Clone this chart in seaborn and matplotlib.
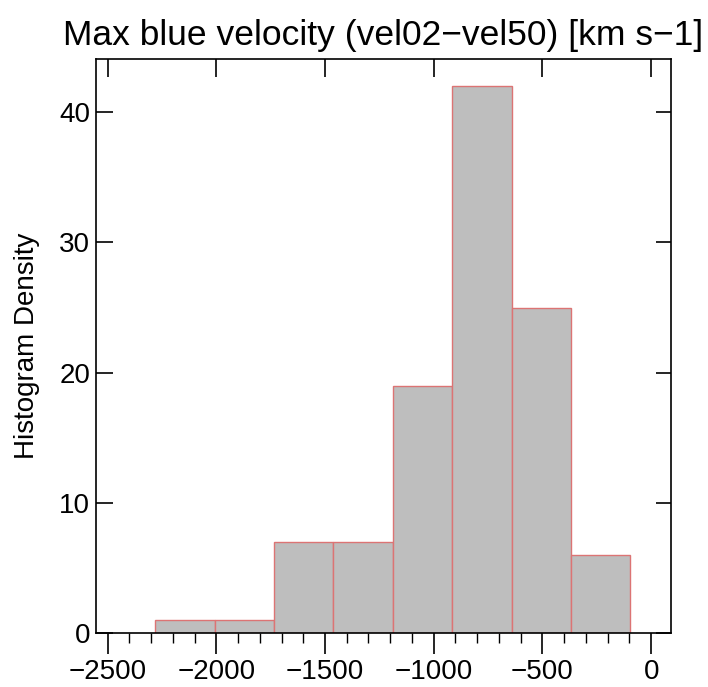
import matplotlib
matplotlib.use('Agg')
import matplotlib.pyplot as plt
import seaborn as sns
import numpy as np
from matplotlib.ticker import MultipleLocator

# Histogram values
bin_edges = [-2280, -2007, -1734, -1461, -1188, -915, -642, -369, -96]
counts = [1, 1, 7, 7, 19, 42, 25, 6]
x_ticks = [-2500, -2000, -1500, -1000, -500, 0]
y_ticks = [0, 10, 20, 30, 40]

title = 'Max blue velocity (vel02\u2212vel50) [km s\u22121]'
ylabel = 'Histogram Density'

sns.set_style('white')
plt.rcParams['font.family'] = ['Liberation Sans', 'DejaVu Sans']
plt.rcParams['text.color'] = 'black'
plt.rcParams['axes.labelcolor'] = 'black'
plt.rcParams['xtick.color'] = 'black'
plt.rcParams['ytick.color'] = 'black'

centers = [(a + b) / 2 for a, b in zip(bin_edges[:-1], bin_edges[1:])]

fig = plt.figure(figsize=(7.08, 6.87), dpi=100)
ax = fig.add_axes([0.135, 0.079, 0.813, 0.835])

sns.histplot(x=centers, weights=counts, bins=bin_edges, ax=ax,
             color='#bebebe', edgecolor='#dc7474', linewidth=1.0, alpha=1.0)

ax.set_xlim(-2555, 92)
ax.set_ylim(0, 44.1)
ax.set_xticks(x_ticks)
ax.set_yticks(y_ticks)
ax.xaxis.set_minor_locator(MultipleLocator(100))

# bottom axis: ticks outward with minors
ax.tick_params(axis='x', which='major', direction='out', length=15, width=1.2,
               labelsize=20, pad=4, bottom=True, top=False)
ax.tick_params(axis='x', which='minor', direction='out', length=7, width=1.0,
               bottom=True, top=False)
# left axis: ticks inward
ax.tick_params(axis='y', which='major', direction='in', length=12, width=1.2,
               labelsize=20, pad=4, left=True, right=False)

for s in ax.spines.values():
    s.set_linewidth(1.2)
    s.set_color('black')

top = ax.secondary_xaxis('top')
top.set_xticks(x_ticks)
top.tick_params(direction='in', length=13, width=1.2, labeltop=False, top=True)
top.spines['top'].set_visible(False)

right = ax.secondary_yaxis('right')
right.set_yticks(y_ticks)
right.tick_params(direction='in', length=11, width=1.2, labelright=False, right=True)
right.spines['right'].set_visible(False)

ax.set_xlabel('')
ax.set_ylabel(ylabel, fontsize=20, labelpad=14)
ax.set_title(title, fontsize=25.5, pad=10)

plt.savefig('out.png', dpi=100)
